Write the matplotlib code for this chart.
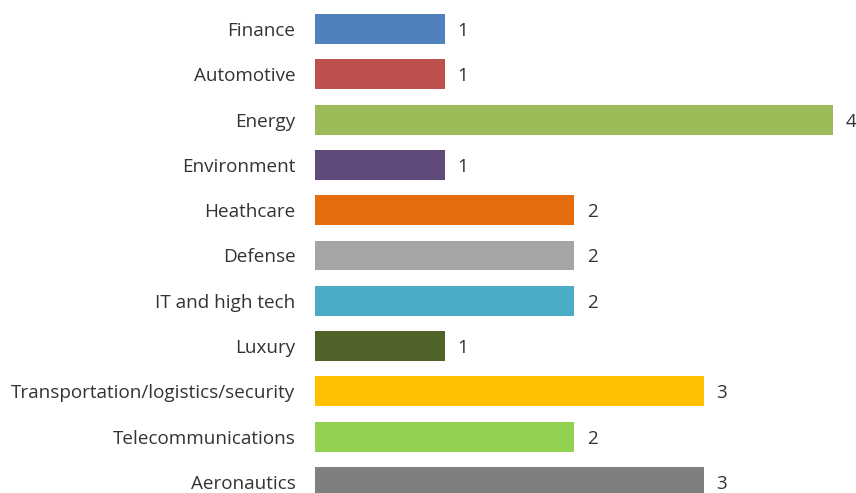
import matplotlib
matplotlib.use("Agg")
import matplotlib.pyplot as plt

# sectors, top to bottom
categories = ["Finance", "Automotive", "Energy", "Environment", "Heathcare",
              "Defense", "IT and high tech", "Luxury",
              "Transportation/logistics/security", "Telecommunications",
              "Aeronautics"]
values = [1, 1, 4, 1, 2, 2, 2, 1, 3, 2, 3]
colors = ["#4F81BD", "#C0504D", "#9BBB59", "#604A7B", "#E46C0A", "#A5A5A5",
          "#4BACC6", "#4F6228", "#FFC000", "#92D050", "#7F7F7F"]

plt.rcParams['font.family'] = ['Open Sans', 'DejaVu Sans']
FS = 13.6

fig = plt.figure(figsize=(8.56, 4.93), dpi=100)
# 1 unit ~ 129.5 px, axis starts at x=315 px
ax = fig.add_axes([315 / 856, 0, 4.2 * 129.5 / 856, 1])

pos = list(range(len(categories)))
ax.barh(pos, values, height=0.66, color=colors)

for p, v in zip(pos, values):
    ax.text(v + 0.1, p, str(v), va="center_baseline", ha="left", fontsize=FS, color="#333333")

ax.set_xlim(0, 4.2)
ax.set_ylim(10.243, -0.64)
ax.set_yticks(pos)
ax.set_yticklabels(categories, fontsize=FS, color="#333333", va="center_baseline")
ax.tick_params(axis="y", length=0, pad=14)
ax.set_xticks([])
for s in ax.spines.values():
    s.set_visible(False)

fig.savefig("out.png", dpi=100)
